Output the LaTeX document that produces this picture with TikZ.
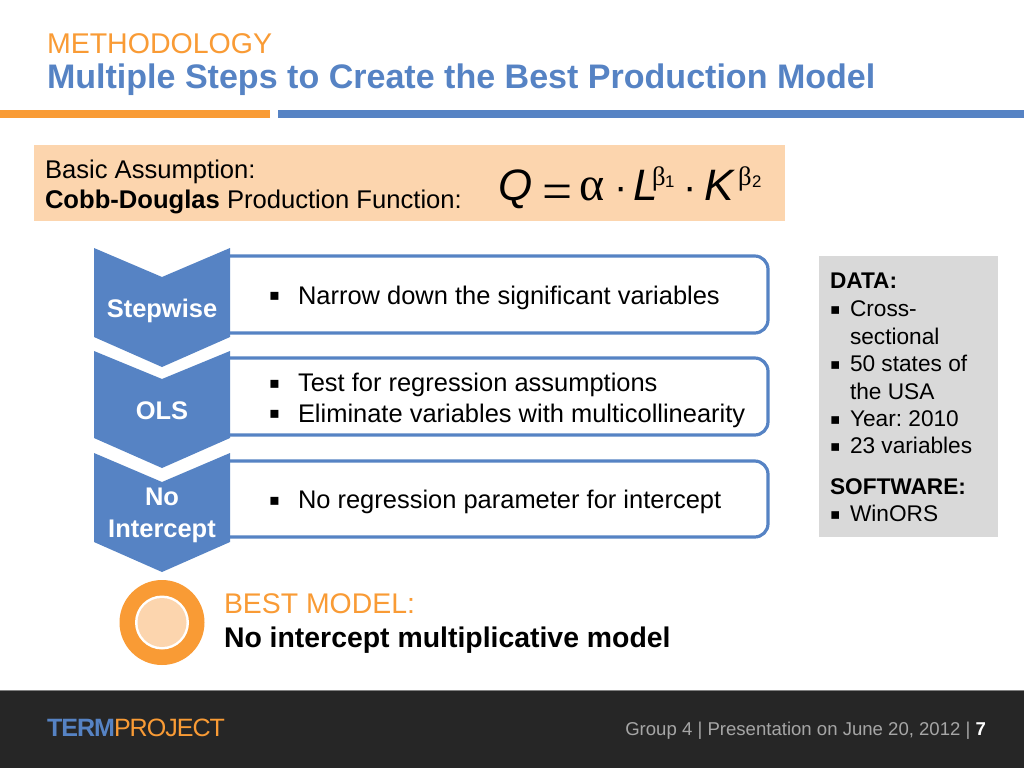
\documentclass[tikz,border=0pt]{standalone}
\usepackage{fontspec}
\setmainfont{Liberation Sans}
\newfontfamily\symfont{DejaVu Sans}
\newfontfamily\serifgreek{Liberation Serif}
\newfontfamily\logofont[LetterSpace=-4]{Liberation Sans}
\definecolor{bluec}{HTML}{5683C4}
\definecolor{orangec}{HTML}{F99B35}
\definecolor{peach}{HTML}{FCD5AE}
\definecolor{greybox}{HTML}{D9D9D9}
\definecolor{footer}{HTML}{262626}
\definecolor{footgrey}{HTML}{A6A6A6}
\newcommand{\fs}[1]{\fontsize{#1}{#1}\selectfont}
\newcommand{\bul}{{\symfont\fs{12}▪}}
\newcommand{\sbul}{{\symfont\fs{11.5}▪}}
\frenchspacing
\tikzset{
 x=0.75pt,y=-0.75pt,
 txt/.style={anchor=base west,inner sep=0pt,outer sep=0pt},
 chev/.style={fill=bluec,draw=none},
 stepbox/.style={draw=bluec,line width=2.4pt,rounded corners=10pt},
 chevtext/.style={inner sep=0pt,align=center,text=white,font=\fs{19.1}\bfseries},
 body/.style={txt,font=\fs{19.1}},
 side/.style={txt,font=\fs{17}},
 formula/.style={txt,font=\fs{33}\itshape},
 greek/.style={txt,font=\fs{20}\serifgreek},
 idx/.style={txt,font=\fs{12.6}},
}
\begin{document}
\begin{tikzpicture}
\useasboundingbox (0,0) rectangle (1024,768);
\fill[white] (0,0) rectangle (1024,768);
\node[txt,text=orangec,font=\fs{21.4}] (t1) at (47,53) {METHODOLOGY};
\node[txt,text=bluec,font=\fs{25.53}\bfseries] (t2) at (47,88) {Multiple Steps to Create the Best Production Model};
\fill[orangec] (0,110) rectangle (270,118);
\fill[bluec] (278,110) rectangle (1024,118);
\fill[peach] (34,145) rectangle (785,221);
\node[txt,font=\fs{19.2}] (a1) at (45,178) {Basic Assumption:};
\node[txt,font=\fs{19.2}] (a2) at (45,208) {\textbf{Cobb-Douglas} Production Function:};
\node[formula] (q) at (498,200) {Q};
\node[txt,font=\fs{40}\serifgreek] (eq) at (542,209) {=};
\node[txt,font=\fs{36}\serifgreek] (al) at (579,200) {α};
\node[txt,font=\fs{30}] (d1) at (614,200) {·};
\node[formula] (l) at (633,200) {L};
\node[greek] (b1) at (652,185) {β};
\node[idx] (i1) at (665,187) {1};
\node[txt,font=\fs{30}] (d2) at (683,200) {·};
\node[formula] (k) at (704,200) {K};
\node[greek] (b2) at (738,185) {β};
\node[idx] (i2) at (752,187) {2};
% boxes
\draw[stepbox] (230,256) -- (768,256) -- (768,333) -- (230,333);
\draw[stepbox] (230,358) -- (768,358) -- (768,435) -- (230,435);
\draw[stepbox] (230,461) -- (768,461) -- (768,537) -- (230,537);
% chevrons
\fill[chev] (94,248) -- (162,277) -- (230,248) -- (230,337) -- (162,367) -- (94,337) -- cycle;
\fill[chev] (94,351) -- (162,379) -- (230,351) -- (230,438) -- (162,468) -- (94,438) -- cycle;
\fill[chev] (94,453) -- (162,482) -- (230,453) -- (230,542) -- (162,572) -- (94,542) -- cycle;
\node[chevtext] (c1) at (162,310.5) {Stepwise};
\node[chevtext] (c2) at (162,411) {OLS};
\node[chevtext] (c3) at (162,515.5) {No\\[4.5pt]Intercept};
% bullets
\node[body] (n1b) at (269,300) {\bul};
\node[body] (n1) at (298,304) {Narrow down the significant variables};
\node[body] (n2b) at (269,388) {\bul};
\node[body] (n2) at (298,391) {Test for regression assumptions};
\node[body] (n3b) at (269,418) {\bul};
\node[body] (n3) at (298,422) {Eliminate variables with multicollinearity};
\node[body] (n4b) at (269,505) {\bul};
\node[body] (n4) at (298,508) {No regression parameter for intercept};
% side panel
\fill[greybox] (819,256) rectangle (998,537);
\node[side,font=\fs{17}\bfseries] (s0) at (830,288) {DATA:};
\node[side] (s1b) at (830,314) {\sbul};
\node[side] (s1) at (850,316) {Cross-};
\node[side] (s1c) at (850,344) {sectional};
\node[side] (s2b) at (830,369) {\sbul};
\node[side] (s2) at (850,371) {50 states of};
\node[side] (s2c) at (850,399) {the USA};
\node[side] (s3b) at (830,424) {\sbul};
\node[side] (s3) at (850,426) {Year: 2010};
\node[side] (s4b) at (830,451) {\sbul};
\node[side] (s4) at (850,453) {23 variables};
\node[side,font=\fs{17}\bfseries] (s5) at (830,494) {SOFTWARE:};
\node[side] (s6b) at (830,519) {\sbul};
\node[side] (s6) at (850,521) {WinORS};
% best model
\fill[orangec] (162,622.5) circle[radius=42.5];
\fill[white] (162,622.5) circle[radius=27];
\fill[peach] (162,622.5) circle[radius=24.5];
\node[txt,text=orangec,font=\fs{21.3}] (b1t) at (224,613) {BEST MODEL:};
\node[txt,font=\fs{21.3}\bfseries] (b2t) at (224,647) {No intercept multiplicative model};
% footer
\fill[footer] (0,690) rectangle (1024,768);
\draw[gray,line width=0.5pt] (0,690) -- (1024,690);
\node[txt,font=\fs{18.8}\logofont] (logo) at (47,736) {\textcolor{bluec}{\textbf{TERM}}\textcolor{orangec}{PROJECT}};
\node[txt,anchor=base east,font=\fs{13.93},text=footgrey] (f) at (986,735) {Group 4 | Presentation on June 20, 2012 | \textcolor{white}{\textbf{7}}};
\end{tikzpicture}
\end{document}
